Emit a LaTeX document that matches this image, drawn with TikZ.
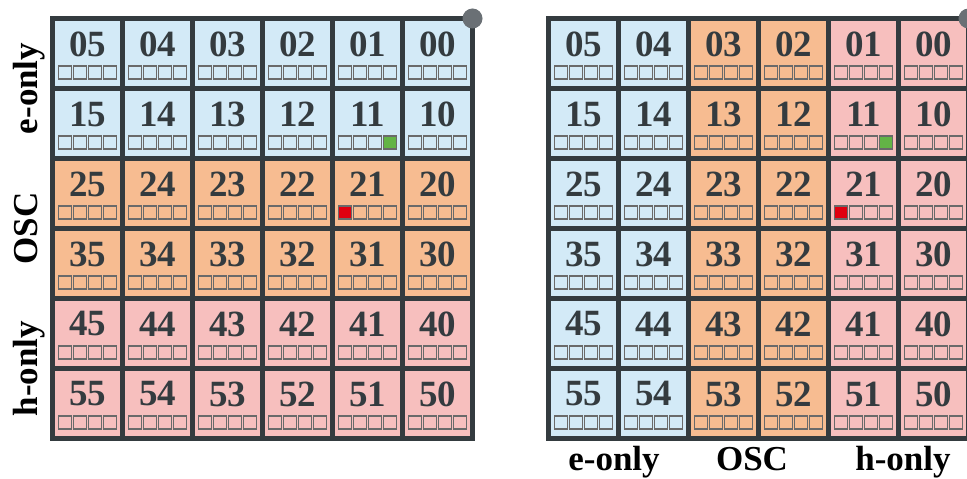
\documentclass[tikz,border=0pt]{standalone}
\usepackage{fontspec}
\setmainfont{Liberation Serif}
\usepackage{xcolor}
\usetikzlibrary{positioning}

\definecolor{eblue}{HTML}{D3EAF7}
\definecolor{oscorange}{HTML}{F7BC91}
\definecolor{hpink}{HTML}{F7BFBE}
\definecolor{gridgray}{HTML}{343B3F}
\definecolor{dotgray}{HTML}{6A7075}
\definecolor{boxgray}{HTML}{6A6A6A}
\definecolor{spingreen}{HTML}{63B446}
\definecolor{spinred}{HTML}{E0000F}

\begin{document}
\begin{tikzpicture}[x=1pt,y=1pt]
  \tikzstyle{cell} = [rectangle, draw=gridgray, line width=5pt, minimum width=70pt, minimum height=70pt, inner sep=0pt, outer sep=0pt]
  \tikzstyle{num} = [text=gridgray, inner sep=0pt, font=\fontsize{37}{37}\selectfont\bfseries]
  \tikzstyle{sq} = [rectangle, draw=boxgray, line width=1.3pt, minimum width=13pt, minimum height=13pt, inner sep=0pt]
  \tikzstyle{dot} = [circle, fill=dotgray, minimum size=20pt, inner sep=0pt]
  \tikzstyle{region} = [text=black, inner sep=0pt, font=\fontsize{35}{35}\selectfont\bfseries]

  \useasboundingbox (0,0) rectangle (967,479);

  % Left grid: coloured by row
  \foreach \r/\fillc in {0/eblue,1/eblue,2/oscorange,3/oscorange,4/hpink,5/hpink} {
    \foreach \c in {0,...,5} {
      \node[cell, fill=\fillc] (L\r\c) at ({52.5+(5-\c)*70+35}, {479-18.5-\r*70-35}) {};
      \node[num] (Ln\r\c) at ([yshift=-25.5pt]L\r\c.north) {\r\c};
      \foreach \k in {1,...,4}
        \node[sq, fill=\fillc] (L\r\c-\k) at ([xshift={(\k-2.5)*15pt}, yshift=-19pt]L\r\c.center) {};
    }
  }
  \node[sq, fill=spingreen] (Lgreen) at (L11-4) {};
  \node[sq, fill=spinred] (Lred) at (L21-1) {};
  \node[dot] (Ldot) at (L00.north east) {};

  % Right grid: coloured by column
  \foreach \r in {0,...,5} {
    \foreach \c/\fillc in {0/hpink,1/hpink,2/oscorange,3/oscorange,4/eblue,5/eblue} {
      \node[cell, fill=\fillc] (R\r\c) at ({548.5+(5-\c)*70+35}, {479-18.5-\r*70-35}) {};
      \node[num] (Rn\r\c) at ([yshift=-25.5pt]R\r\c.north) {\r\c};
      \foreach \k in {1,...,4}
        \node[sq, fill=\fillc] (R\r\c-\k) at ([xshift={(\k-2.5)*15pt}, yshift=-19pt]R\r\c.center) {};
    }
  }
  \node[sq, fill=spingreen] (Rgreen) at (R11-4) {};
  \node[sq, fill=spinred] (Rred) at (R21-1) {};
  \node[dot] (Rdot) at (R00.north east) {};

  % Region labels
  \node[region, rotate=90, anchor=base] (Le) at (37, 479-88.5) {e-only};
  \node[region, rotate=90, anchor=base] (Losc) at (37, 479-228.5) {OSC};
  \node[region, rotate=90, anchor=base] (Lh) at (37, 479-368.5) {h-only};
  \node[region, anchor=base] (Re) at (614, 8) {e-only};
  \node[region, anchor=base] (Rosc) at (752, 8) {OSC};
  \node[region, anchor=base] (Rh) at (903, 8) {h-only};
\end{tikzpicture}
\end{document}
